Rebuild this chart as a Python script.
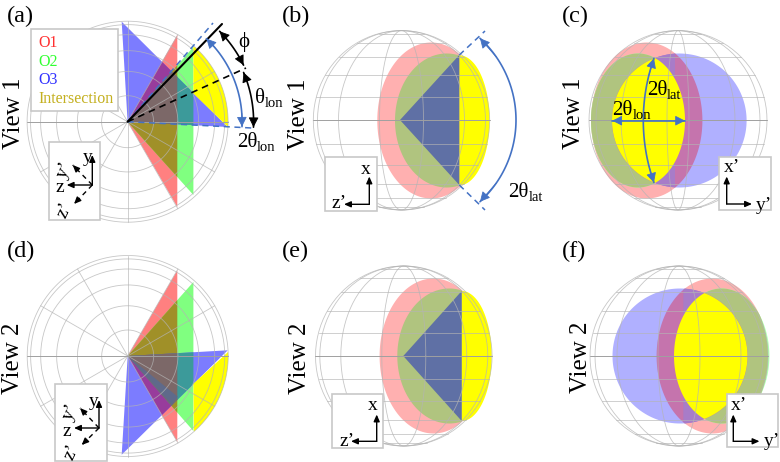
import numpy as np, pandas as pd, matplotlib
matplotlib.use("Agg")
import matplotlib.pyplot as plt, seaborn as sns
sns.set_theme(style="white")
plt.rcParams['font.family'] = ['Liberation Serif', 'DejaVu Sans']

# ---- colours
RED, GREEN, BLUE = "#ff8080", "#80ff80", "#7c7cff"
OLIVE, PURPLE, TEAL, BROWN, NAVY = "#a09028", "#983c9c", "#3c9a9a", "#7c6868", "#5f6a8a"
YELLOW = "#ffff00"
PINK_L, GREEN_L, BLUE_L = "#ffb0b0", "#b0ffb0", "#b0b0ff"
OLIVE_L, MAUVE, LILAC, SLATE = "#b0c47f", "#c574ad", "#a87cc8", "#5f70a5"
ARROW = "#4472c4"
GRID = "#c4c4c4"

# ---- panel (a)/(d) geometry
A_APEX = (127.6, 121.7); A_R = 100.5
A_O1 = [(177.3, 35), (177.3, 207)]
A_O2 = [(193.4, 47), (193.4, 195)]
A_O3 = [(121.7, 21.7), (227.7, 127)]
A_ARC = (48.6, -3.0); A_HYP = (193.4, 93.5)
D_APEX = (127.7, 356.0); D_R = 100.5
D_O1 = [(177.3, 270.3), (177.3, 442)]
D_O2 = [(193.4, 282), (193.4, 431)]
D_O3 = [(227.7, 350.3), (121.7, 454.7)]
D_ARC = (2.3, -48.8); D_HYP = (193.4, 383.7)
D_SLIVER = [(127.7, 356), (177.7, 396.7), (171.8, 405)]

# ---- spheres: centre x, centre y, rx, ry, meridian half widths
S_B = (401.5, 120.3, 88.2, 89.7, (22, 63, 84))
S_C = (678.0, 120.3, 89.0, 89.7, (11, 57, 82))
S_E = (403.8, 356.0, 88.3, 90.0, (22, 63, 84))
S_F = (679.0, 356.0, 89.0, 90.0, (21, 62, 84))

# ---- ellipses of the side views: cx, cy, rx, ry
B_PINK = (431.2, 120.5, 53.9, 78); B_GREEN = (446.7, 120.5, 51.7, 67)
B_TRI = [(400, 120), (459.3, 55), (459.3, 185)]; B_CUT = 459.3; B_BULGE = 30.3; B_HALF = 65
E_PINK = (433.5, 356.0, 53.9, 77.5); E_GREEN = (449.3, 356.0, 52.0, 67.5)
E_TRI = [(403.3, 356), (461.7, 291), (461.7, 421)]; E_CUT = 461.7; E_BULGE = 30.0; E_HALF = 65
C_PINK = (646.7, 120.5, 55.7, 78); C_GREEN = (638.0, 120.5, 47.0, 67); C_BLUE = (679.3, 120.5, 67.3, 67)
C_SPLIT = 675.0
F_PINK = (712.3, 356.0, 55.7, 77.5); F_GREEN = (721.7, 356.0, 47.7, 67.5); F_BLUE = (680.0, 356.0, 67.5, 67.5)
F_SPLIT = 683.3

LEG_LABELS = ["O1", "O2", "O3", "Intersection"]
LEG_COLORS = ["#ff3030", "#30ff30", "#3030ff", "#c4b020"]
PANEL_LABELS = ["(a)", "(b)", "(c)", "(d)", "(e)", "(f)"]
PANEL_POS = [(7, 22), (282, 22), (562, 22), (7, 257), (282, 257), (562, 257)]
VIEW_LABELS = ["View 1", "View 1", "View 1", "View 2", "View 2", "View 2"]
VIEW_POS = [(14, 113), (299, 114), (574, 113), (13, 358), (300, 358), (581, 357)]

fig = plt.figure(figsize=(7.8, 4.62), dpi=100)
ax = fig.add_axes([0, 0, 1, 1])


def ell(e, n=180):
    t = np.linspace(0, 2 * np.pi, n, endpoint=False)
    return [(e[0] + e[2] * np.cos(a), e[1] + e[3] * np.sin(a)) for a in t]


def clip(subj, clipper):
    """Sutherland-Hodgman for convex clip polygons."""
    c = np.array(clipper)
    area = np.sum(c[:, 0] * np.roll(c[:, 1], -1) - np.roll(c[:, 0], -1) * c[:, 1])
    s = 1 if area > 0 else -1
    out = list(subj)
    for i in range(len(c)):
        a, b = c[i], c[(i + 1) % len(c)]
        ins = lambda p: s * ((b[0]-a[0])*(p[1]-a[1]) - (b[1]-a[1])*(p[0]-a[0])) >= 0
        prev, out = out, []
        for j in range(len(prev)):
            p, q = prev[j], prev[(j + 1) % len(prev)]
            ip, iq = ins(p), ins(q)
            if ip:
                out.append(p)
            if ip != iq:
                d1 = (b[0]-a[0])*(p[1]-a[1]) - (b[1]-a[1])*(p[0]-a[0])
                d2 = (b[0]-a[0])*(q[1]-a[1]) - (b[1]-a[1])*(q[0]-a[0])
                u = d1 / (d1 - d2)
                out.append((p[0] + u*(q[0]-p[0]), p[1] + u*(q[1]-p[1])))
        if not out:
            return []
    return out


def fill(poly, color, z=2):
    if len(poly) > 2:
        xy = np.array(poly)
        ax.fill(xy[:, 0], xy[:, 1], color=color, lw=0, zorder=z)


def inter(*polys):
    r = polys[0]
    for p in polys[1:]:
        r = clip(r, p) if r else []
    return r


def arc_pts(c, r, a0, a1, n=60):
    t = np.radians(np.linspace(a0, a1, n))
    return [(c[0] + r*np.cos(a), c[1] - r*np.sin(a)) for a in t]


def polar_panel(apex, O1, O2, O3, yel, extra=None):
    r, g, b = [apex] + O1, [apex] + O2, [apex] + O3
    fill(r, RED); fill(g, GREEN); fill(b, BLUE)
    fill(inter(r, g), OLIVE); fill(inter(r, b), PURPLE); fill(inter(g, b), TEAL)
    fill(inter(r, g, b), BROWN)
    if extra:
        fill(extra, NAVY)
    fill(yel, YELLOW)


def sphere_rows(S, key):
    cx, cy, rx, ry, mer = S
    rows = []
    n = 0
    t = np.radians(np.linspace(0, 360, 181))
    rows += [(key, n, cx + rx*np.cos(a), cy + ry*np.sin(a)) for a in t]
    n += 1
    for m in mer:
        rows += [(key, n, cx + m*np.cos(a), cy + ry*np.sin(a)) for a in t]
        n += 1
    for k in range(-5, 6):
        if k == 0:
            continue
        y = ry*np.sin(np.radians(15*k))
        w = rx*np.cos(np.radians(15*k))
        rows += [(key, n, cx - w, cy + y), (key, n, cx + w, cy + y)]
        n += 1
    return rows


def polar_rows(apex, R, key):
    rows, n = [], 0
    t = np.radians(np.linspace(0, 360, 181))
    for k in range(1, 7):
        r = R*np.sin(np.radians(15*k))
        rows += [(key, n, apex[0] + r*np.cos(a), apex[1] + r*np.sin(a)) for a in t]
        n += 1
    for d in range(30, 180, 30):
        a = np.radians(d)
        rows += [(key, n, apex[0] - R*np.cos(a), apex[1] - R*np.sin(a)),
                 (key, n, apex[0] + R*np.cos(a), apex[1] + R*np.sin(a))]
        n += 1
    return rows


def sphere_side(S, pink, green, tri, cut, bulge, half):
    cy = S[1]
    fill(ell(pink), PINK_L)
    box = [(cut, 0), (0, 0), (0, 462), (cut, 462)]
    fill(inter(ell(green), box), OLIVE_L)
    half_e = [(cut + bulge*np.cos(a), cy + half*np.sin(a)) for a in np.radians(np.linspace(-90, 90, 60))]
    fill(half_e, YELLOW)
    fill(tri, SLATE, z=3)


def sphere_front(pink, green, blue, left_split, lilac_left):
    P, G, B = ell(pink), ell(green), ell(blue)
    fill(P, PINK_L); fill(G, GREEN_L); fill(B, BLUE_L)
    fill(inter(G, P), OLIVE_L); fill(inter(B, P), MAUVE)
    if lilac_left:
        side = [(left_split, 0), (0, 0), (0, 462), (left_split, 462)]
    else:
        side = [(780, 0), (left_split, 0), (left_split, 462), (780, 462)]
    fill(inter(B, P, side), LILAC)
    fill(inter(G, B), YELLOW)


# ---- fills
polar_panel(A_APEX, A_O1, A_O2, A_O3,
            [A_O2[0]] + arc_pts(A_APEX, A_R, *A_ARC)[1:] + [A_HYP])
polar_panel(D_APEX, D_O1, D_O2, D_O3,
            arc_pts(D_APEX, D_R, *D_ARC) + [D_HYP], extra=D_SLIVER)
sphere_side(S_B, B_PINK, B_GREEN, B_TRI, B_CUT, B_BULGE, B_HALF)
sphere_side(S_E, E_PINK, E_GREEN, E_TRI, E_CUT, E_BULGE, E_HALF)
sphere_front(C_PINK, C_GREEN, C_BLUE, C_SPLIT, True)
sphere_front(F_PINK, F_GREEN, F_BLUE, F_SPLIT, False)

# ---- grids, through seaborn
rows = (polar_rows(A_APEX, A_R, "a") + polar_rows(D_APEX, D_R, "d") +
        sphere_rows(S_B, "b") + sphere_rows(S_C, "c") + sphere_rows(S_E, "e") + sphere_rows(S_F, "f"))
df = pd.DataFrame(rows, columns=["panel", "seg", "x", "y"])
df["uid"] = df["panel"] + df["seg"].astype(str)
sns.lineplot(data=df, x="x", y="y", units="uid", estimator=None, sort=False,
             color="#b4b4b4", lw=0.6, alpha=0.75, ax=ax, zorder=4, legend=False)
# darker equators
for (x0, x1, y) in [(27, 228, 121.7), (313, 490, 120.3), (589, 767, 120.3),
                    (27, 228, 356), (315, 492, 356), (590, 768, 356)]:
    ax.plot([x0, x1], [y, y], color="#a0a0a0", lw=0.7, zorder=4)


def ends(p0, q0, color, lw=1.2, ls='-', z=6):
    ax.plot([p0[0], q0[0]], [p0[1], q0[1]], color=color, lw=lw, ls=ls, zorder=z)


def head(tip, frm, color, ms=11, z=7):
    ax.annotate('', xy=tip, xytext=frm, zorder=z,
                arrowprops=dict(arrowstyle='-|>,head_length=0.55,head_width=0.28', color=color, lw=0.6,
                                shrinkA=0, shrinkB=0, mutation_scale=ms))


def arc_arrow(c, r, a0, a1, color, lw=1.2):
    p = arc_pts(c, r, a0, a1)
    xy = np.array(p)
    ax.plot(xy[:, 0], xy[:, 1], color=color, lw=lw, zorder=6)
    head(p[0], p[8], color)
    head(p[-1], p[-9], color)


# annotations panel (a)
ends(A_APEX, (222, 24), "black", lw=1.5)
ends(A_APEX, (246, 68), "black", lw=1.2, ls=(0, (4, 3)))
ends(A_APEX, (213, 23), ARROW, lw=1.1, ls=(0, (4, 3)), z=5)
ends(A_APEX, (252, 128), ARROW, lw=1.1, ls=(0, (4, 3)), z=5)
arc_arrow(A_APEX, 129, 44.5, 26, "black")
arc_arrow(A_APEX, 126, 23, -2.5, "black")
arc_arrow(A_APEX, 114.5, 46.5, -2.5, ARROW)

# panel (b)
ends((459.3, 55), (485, 31), ARROW, lw=1.1, ls=(0, (4, 3)))
ends((459.3, 185), (485, 210), ARROW, lw=1.1, ls=(0, (4, 3)))
arc_arrow((405.3, 120), 110.7, 47.6, -47.6, ARROW)

# panel (c)
arc_arrow((829.5, 120.5), 186.2, 160.5, 199.5, ARROW)
ends((612.3, 120.7), (685, 120.7), ARROW)
head((612.3, 120.7), (622, 120.7), ARROW)
head((685, 120.7), (675, 120.7), ARROW)


def txt(x, y, s, fs=15, color="black", ha="left", va="baseline", rot=0, z=9):
    return ax.text(x, y, s, fontsize=fs, color=color, ha=ha, va=va, rotation=rot, zorder=z)


def sub(x, y, main, low, fs=15, fs2=10.5):
    t = txt(x, y, main, fs)
    ax.annotate(low, xy=(1, 0), xycoords=t, xytext=(0, 0.5), textcoords="offset points",
                fontsize=fs2, ha="left", va="baseline", zorder=9, color="black")


sub(236.7, 147, "2θ", "lon")
sub(255, 103, "θ", "lon")
txt(238, 47, "ϕ", 15)
sub(508, 197, "2θ", "lat")
sub(646.7, 95, "2θ", "lat")
sub(612, 115, "2θ", "lon")

# legend box
box_kw = dict(fc="white", ec="#c8c8c8", lw=1.2, zorder=8)
ax.add_patch(plt.Rectangle((31, 29), 87, 82, **box_kw))
for lab, col, yy in zip(LEG_LABELS, LEG_COLORS, (47, 65.5, 84, 103)):
    txt(38, yy, lab, 11.5, col)


def small(tip, frm, dashed=False):
    if dashed:
        ax.plot([frm[0], tip[0]], [frm[1], tip[1]], color="black", lw=1.0, ls=(0, (3.5, 3)), zorder=9)
        v = np.array(tip) - np.array(frm)
        frm = tuple(np.array(tip) - 6 * v / np.hypot(*v))
    ax.annotate('', xy=tip, xytext=frm, zorder=9,
                arrowprops=dict(arrowstyle='-|>,head_length=0.5,head_width=0.22', color="black", lw=1.0,
                                shrinkA=0, shrinkB=0, mutation_scale=8))


def inset_oblique(x, y, w, h, corner, ytip, ztip, ypt, zpt, labels):
    ax.add_patch(plt.Rectangle((x, y), w, h, **box_kw))
    small(ytip, corner); small(ztip, corner)
    small(ypt, corner, True); small(zpt, corner, True)
    for (tx, ty, s, r) in labels:
        txt(tx, ty, s, 14, ha="center", va="center", rot=r)


inset_oblique(49, 141.7, 51, 78.5, (92.3, 185), (92.3, 155), (66.7, 185), (72.7, 165), (74, 204),
              [(88, 158, "y", 0), (60, 188, "z", 0), (65, 170, "y’", 65), (65, 210, "z’", 65)])
inset_oblique(55.3, 383.7, 51.4, 77.3, (99, 428), (99, 400), (74, 428), (80, 408), (81.7, 445),
              [(94, 402, "y", 0), (67, 431, "z", 0), (71, 412, "y’", 65), (72, 452, "z’", 65)])


def inset_plain(x, y, w, h, corner, tip_up, tip_side, labels):
    ax.add_patch(plt.Rectangle((x, y), w, h, **box_kw))
    small(tip_up, corner); small(tip_side, corner)
    for (tx, ty, s) in labels:
        txt(tx, ty, s, 14, ha="center", va="center")


inset_plain(325, 157.3, 51.7, 53.4, (369.3, 204.3), (369.3, 176.5), (344, 204.3),
            [(366, 169, "x"), (339, 203, "z’")])
inset_plain(719.3, 156.7, 51.4, 53.3, (726.7, 204), (726.7, 176.5), (752, 204),
            [(732, 168, "x’"), (764, 205, "y’")])
inset_plain(332.3, 394.3, 51, 53.4, (376.7, 441.3), (376.7, 414.5), (351, 441.3),
            [(373, 406, "x"), (347, 441, "z’")])
inset_plain(726.7, 394.3, 51, 52.7, (733.3, 441.3), (733.3, 414.5), (759.5, 441.3),
            [(739, 406, "x’"), (772, 442, "y’")])

for s, (x, y) in zip(PANEL_LABELS, PANEL_POS):
    txt(x, y, s, 17.5)
for s, (x, y) in zip(VIEW_LABELS, VIEW_POS):
    txt(x, y, s, 18, ha="center", va="center", rot=90)

ax.set_xlim(0, 780); ax.set_ylim(462, 0)
ax.axis("off")
fig.savefig("out.png", dpi=100)
